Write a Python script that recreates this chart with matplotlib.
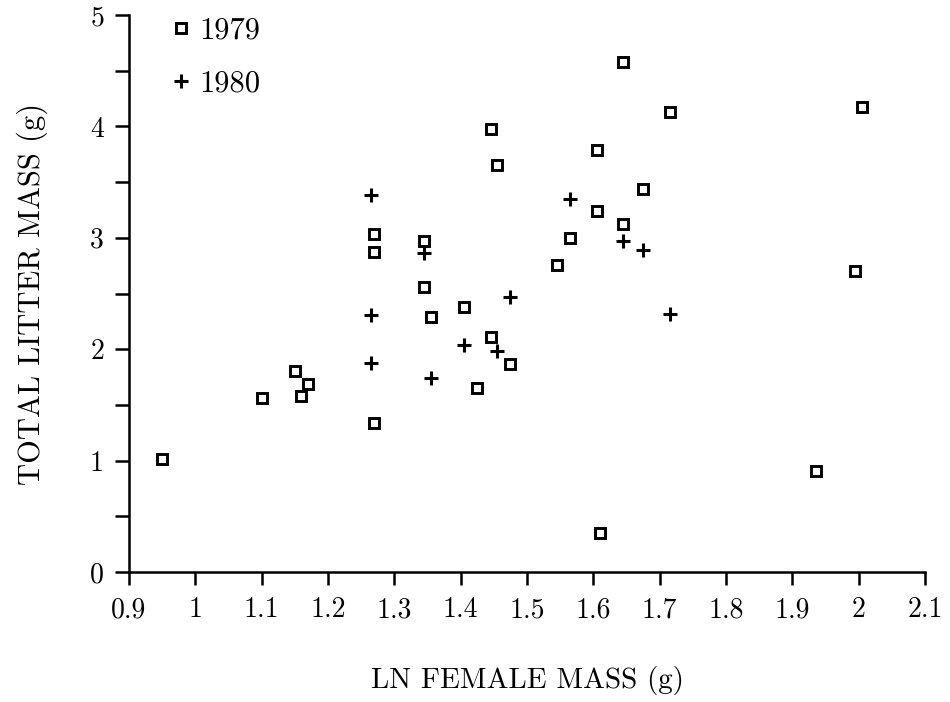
import matplotlib
matplotlib.use("Agg")
import matplotlib.pyplot as plt

# 1979 litters (squares)
x_1979 = [0.95, 1.10, 1.15, 1.16, 1.17, 1.27, 1.27, 1.27, 1.345, 1.345, 1.355,
          1.405, 1.425, 1.445, 1.445, 1.455, 1.475, 1.545, 1.565, 1.605, 1.605,
          1.61, 1.645, 1.645, 1.675, 1.715, 1.935, 1.995, 2.005]
y_1979 = [1.01, 1.56, 1.80, 1.58, 1.69, 3.03, 2.87, 1.34, 2.97, 2.56, 2.29,
          2.38, 1.65, 3.98, 2.11, 3.65, 1.87, 2.76, 3.00, 3.79, 3.24,
          0.35, 4.58, 3.12, 3.44, 4.13, 0.91, 2.70, 4.17]

# 1980 litters (plus signs)
x_1980 = [1.265, 1.265, 1.265, 1.345, 1.355, 1.405, 1.455, 1.475, 1.565,
          1.645, 1.675, 1.715]
y_1980 = [3.38, 2.31, 1.88, 2.86, 1.74, 2.04, 1.98, 2.47, 3.35,
          2.97, 2.89, 2.32]

plt.rcParams["font.family"] = ["cmr10", "DejaVu Serif"]
plt.rcParams["axes.unicode_minus"] = False
plt.rcParams["mathtext.fontset"] = "cm"

fig = plt.figure(figsize=(9.5, 7.02), dpi=100)
ax = fig.add_axes([0.1358, 0.1852, 0.8379, 0.7934])

ax.plot(x_1979, y_1979, linestyle="none", marker="s", markersize=7.5,
        markerfacecolor="white", markeredgecolor="black", markeredgewidth=2.1,
        label="1979")
ax.plot(x_1980, y_1980, linestyle="none", marker="+", markersize=10,
        color="black", markeredgewidth=2.2, label="1980")

ax.set_xlim(0.9, 2.1)
ax.set_ylim(0, 5)
ax.set_xticks([0.9 + 0.1 * i for i in range(13)])
ax.set_xticklabels(["0.9", "1", "1.1", "1.2", "1.3", "1.4", "1.5", "1.6",
                    "1.7", "1.8", "1.9", "2", "2.1"])
ax.set_yticks([0.5 * i for i in range(11)])
ax.set_yticklabels([str(i // 2) if i % 2 == 0 else "" for i in range(11)])

for side in ("top", "right"):
    ax.spines[side].set_visible(False)
for side in ("left", "bottom"):
    ax.spines[side].set_linewidth(1.8)
ax.tick_params(axis="x", direction="out", length=9, width=1.8, labelsize=20, pad=9)
ax.tick_params(axis="y", direction="out", length=10, width=1.8, labelsize=20, pad=8)

ax.set_xlabel("LN FEMALE MASS (g)", fontsize=21, labelpad=31)
ax.set_ylabel("TOTAL LITTER MASS (g)", fontsize=22, labelpad=30)

ax.legend(loc="upper left", bbox_to_anchor=(0.0187, 1.046), frameon=False,
          fontsize=22, handlelength=0.6, handletextpad=0.3, labelspacing=0.85,
          numpoints=1)

fig.savefig("out.png", dpi=100)
